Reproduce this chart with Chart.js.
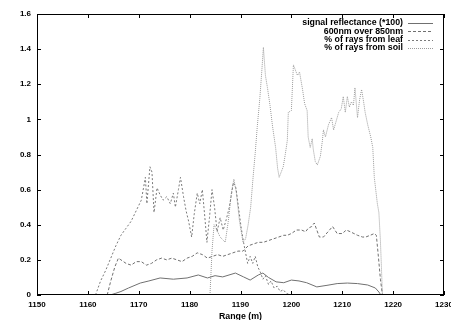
<!DOCTYPE html>
<html>
<head>
<meta charset="utf-8">
<script src="https://cdn.jsdelivr.net/npm/chart.js@4/dist/chart.umd.min.js"></script>
<style>
  html,body{margin:0;padding:0;background:#fff;}
  #wrap{width:451px;height:320px;}
</style>
</head>
<body>
<div id="wrap"><canvas id="chart" width="451" height="320"></canvas></div>
<script>
// ─── Data (range in m, value) ───
const seriesNames = ['signal reflectance (*100)','600nm over 850nm','% of rays from leaf','% of rays from soil'];

const reflectance = [[1164.4,0],[1165.5,0.01],[1166.5,0.02],[1168,0.04],[1170.3,0.068],[1172,0.08],[1174.2,0.097],
  [1176.8,0.09],[1179.5,0.097],[1181.7,0.114],[1183.5,0.097],[1185,0.11],[1186.5,0.103],[1189,0.125],[1190.6,0.103],
  [1191.9,0.085],[1193.5,0.114],[1194.4,0.125],[1195.5,0.1],[1197,0.075],[1198.5,0.07],[1200,0.085],[1201.5,0.08],
  [1203,0.07],[1205,0.046],[1207,0.055],[1209,0.065],[1211,0.068],[1213,0.065],[1215,0.057],[1216.5,0.04],
  [1217.2,0.017],[1217.6,0]];

const ratio = [[1163.8,0],[1164.5,0.08],[1165.3,0.16],[1166,0.21],[1166.5,0.2],[1167.5,0.18],[1168.5,0.17],[1169.5,0.19],
  [1170.5,0.19],[1171.5,0.17],[1172.5,0.18],[1173.5,0.2],[1174.5,0.21],[1175.5,0.2],[1176.5,0.21],[1177.5,0.2],
  [1178.5,0.19],[1179.5,0.21],[1180.5,0.22],[1181.5,0.24],[1182.5,0.23],[1183.5,0.21],[1184.5,0.22],[1185.5,0.23],
  [1186.5,0.22],[1187.5,0.23],[1188.5,0.24],[1189.5,0.25],[1190.5,0.25],[1191.5,0.28],[1192.5,0.29],[1193.5,0.3],
  [1194.5,0.3],[1195.5,0.31],[1196.5,0.32],[1197.5,0.33],[1198.5,0.34],[1199.2,0.34],[1200,0.35],[1201,0.37],
  [1202,0.37],[1202.8,0.36],[1203.3,0.38],[1204,0.39],[1204.5,0.41],[1205,0.37],[1205.5,0.33],[1206.3,0.33],
  [1207.2,0.36],[1208.1,0.39],[1209,0.35],[1210,0.35],[1210.8,0.37],[1211.6,0.36],[1212.3,0.35],[1213,0.34],
  [1214,0.33],[1214.6,0.33],[1215.5,0.34],[1216.3,0.35],[1216.7,0.34],[1217.1,0.22],[1217.5,0.09],[1217.9,0]];

const leaf = [[1161.5,0],[1162.5,0.08],[1163.5,0.14],[1164.5,0.21],[1165.5,0.28],[1166.5,0.34],[1167.5,0.38],
  [1168.5,0.42],[1169.5,0.48],[1170.5,0.54],[1171,0.62],[1171.3,0.67],[1171.6,0.52],[1172.2,0.73],[1172.6,0.7],
  [1173,0.47],[1173.6,0.61],[1174.2,0.57],[1174.8,0.54],[1175.5,0.56],[1176.2,0.52],[1176.8,0.58],[1177.2,0.5],
  [1177.8,0.6],[1178.2,0.67],[1178.8,0.56],[1179.3,0.48],[1179.8,0.42],[1180.4,0.33],[1180.9,0.46],[1181.5,0.58],
  [1182,0.52],[1182.5,0.6],[1183,0.44],[1183.4,0.3],[1183.9,0.44],[1184.4,0.6],[1184.9,0.5],[1185.4,0.36],
  [1186,0.44],[1186.6,0.37],[1187.2,0.43],[1187.8,0.5],[1188.6,0.64],[1189.1,0.61],[1189.6,0.5],[1190.1,0.39],
  [1190.6,0.3],[1191,0.24],[1191.4,0.18],[1191.9,0.22],[1192.4,0.18],[1192.9,0.22],[1193.4,0.16],[1193.9,0.13],
  [1194.4,0.09],[1194.9,0.11],[1195.5,0.06],[1196,0.08],[1196.6,0.04],[1197.2,0.05],[1197.8,0.02],[1198.4,0.03],
  [1199,0.01],[1199.8,0]];

const soil = [[1184,0],[1184.4,0.25],[1184.8,0.4],[1185.2,0.38],[1186,0.33],[1187,0.3],[1187.6,0.42],[1188.2,0.58],
  [1188.7,0.66],[1189.2,0.58],[1189.8,0.42],[1190.5,0.3],[1191,0.32],[1191.5,0.4],[1192,0.5],[1192.5,0.68],
  [1192.9,0.81],[1193.3,0.96],[1193.8,1.12],[1194.2,1.28],[1194.5,1.41],[1194.9,1.25],[1195.3,1.18],[1195.8,1.08],
  [1196.3,0.96],[1196.9,0.84],[1197.3,0.72],[1197.6,0.67],[1198,0.7],[1198.4,0.73],[1198.8,0.8],[1199.2,0.88],
  [1199.4,1.04],[1200,1.05],[1200.4,1.31],[1200.8,1.28],[1201.2,1.25],[1201.6,1.27],[1202.2,1.17],[1202.6,1.09],
  [1203.1,1.05],[1203.3,0.9],[1203.7,0.84],[1204.1,0.89],[1204.3,0.83],[1204.7,0.76],[1205.1,0.74],[1205.7,0.79],
  [1206.1,0.88],[1206.3,0.94],[1206.7,0.9],[1207.3,0.97],[1207.9,1.01],[1208.3,0.94],[1208.9,1.0],[1209.3,1.04],
  [1209.8,1.06],[1210.2,1.13],[1210.6,1.04],[1211,1.13],[1211.4,1.07],[1211.8,1.1],[1212.2,1.08],[1212.5,1.18],
  [1213,1.01],[1213.4,1.11],[1213.8,1.17],[1214.2,1.1],[1214.5,1.04],[1215,0.97],[1215.6,0.9],[1216,0.84],
  [1216.3,0.67],[1216.9,0.52],[1217.2,0.47],[1217.5,0.31],[1217.7,0.16],[1217.9,0]];

// ─── Styles ───
const FONT = "'Liberation Sans', Arial, sans-serif";
const STYLES = [
  {color:'#707070', dash:[]},
  {color:'#707070', dash:[3,2]},
  {color:'#7a7a7a', dash:[2,2]},
  {color:'#9a9a9a', dash:[1,1]}
];
const LEGEND_Y = [23, 31.3, 39.6, 47.9];

const toXY = arr => arr.map(p => ({x:p[0], y:p[1]}));
const seriesData = [reflectance, ratio, leaf, soil];

// ─── Frame, inward ticks and legend (gnuplot style) ───
const gnuplotDecor = {
  id:'gnuplotDecor',
  afterDraw(chart){
    const {ctx, chartArea:a, scales:{x, y}} = chart;
    ctx.save();
    ctx.strokeStyle = '#000'; ctx.lineWidth = 1; ctx.setLineDash([]);
    ctx.strokeRect(a.left + 0.5, a.top + 0.5, a.right - a.left - 1, a.bottom - a.top - 1);
    const T = 4;
    ctx.beginPath();
    x.ticks.forEach(t => {
      const px = Math.round(x.getPixelForValue(t.value)) + 0.5;
      ctx.moveTo(px, a.bottom); ctx.lineTo(px, a.bottom - T);
      ctx.moveTo(px, a.top); ctx.lineTo(px, a.top + T);
    });
    y.ticks.forEach(t => {
      const py = Math.round(y.getPixelForValue(t.value)) + 0.5;
      ctx.moveTo(a.left, py); ctx.lineTo(a.left + T, py);
      ctx.moveTo(a.right, py); ctx.lineTo(a.right - T, py);
    });
    ctx.stroke();

    // legend
    ctx.font = `bold 8.8px ${FONT}`;
    ctx.textAlign = 'right'; ctx.textBaseline = 'middle'; ctx.fillStyle = '#000';
    chart.data.datasets.forEach((ds, i) => {
      const ly = LEGEND_Y[i];
      ctx.fillText(ds.label, 403, ly);
      ctx.strokeStyle = ds.borderColor;
      ctx.setLineDash(ds.borderDash || []);
      ctx.beginPath();
      ctx.moveTo(408, Math.round(ly) + 0.5); ctx.lineTo(433, Math.round(ly) + 0.5);
      ctx.stroke();
    });
    ctx.restore();
  }
};

new Chart(document.getElementById('chart'), {
  type:'line',
  data:{
    datasets: seriesData.map((d, i) => ({
      label: seriesNames[i],
      data: toXY(d),
      borderColor: STYLES[i].color,
      borderDash: STYLES[i].dash,
      borderWidth: 1,
      pointRadius: 0,
      tension: 0,
      fill: false
    }))
  },
  options:{
    responsive:false, animation:false, devicePixelRatio:1,
    layout:{padding:{left:0, right:7, top:14, bottom:0}, autoPadding:false},
    plugins:{legend:{display:false}, tooltip:{enabled:false}},
    scales:{
      x:{
        type:'linear', min:1150, max:1230,
        grid:{display:false, drawTicks:false}, border:{display:false},
        ticks:{stepSize:10, autoSkip:false, maxRotation:0, padding:5, color:'#000',
               font:{family:FONT, size:8, weight:'bold'}, callback:v => String(v)},
        title:{display:true, text:'Range (m)', color:'#000',
               font:{family:FONT, size:8.8, weight:'bold', lineHeight:1}, padding:{top:0, bottom:-1}},
        afterFit:s => { s.height = 25; s.paddingLeft = 0; s.paddingRight = 0; }
      },
      y:{
        min:0, max:1.6,
        grid:{display:false, drawTicks:false}, border:{display:false},
        ticks:{stepSize:0.2, padding:6, color:'#000',
               font:{family:FONT, size:8, weight:'bold'}, callback:v => String(Math.round(v*10)/10)},
        afterFit:s => { s.width = 37; s.paddingTop = 0; s.paddingBottom = 0; }
      }
    }
  },
  plugins:[gnuplotDecor]
});
</script>
</body>
</html>
